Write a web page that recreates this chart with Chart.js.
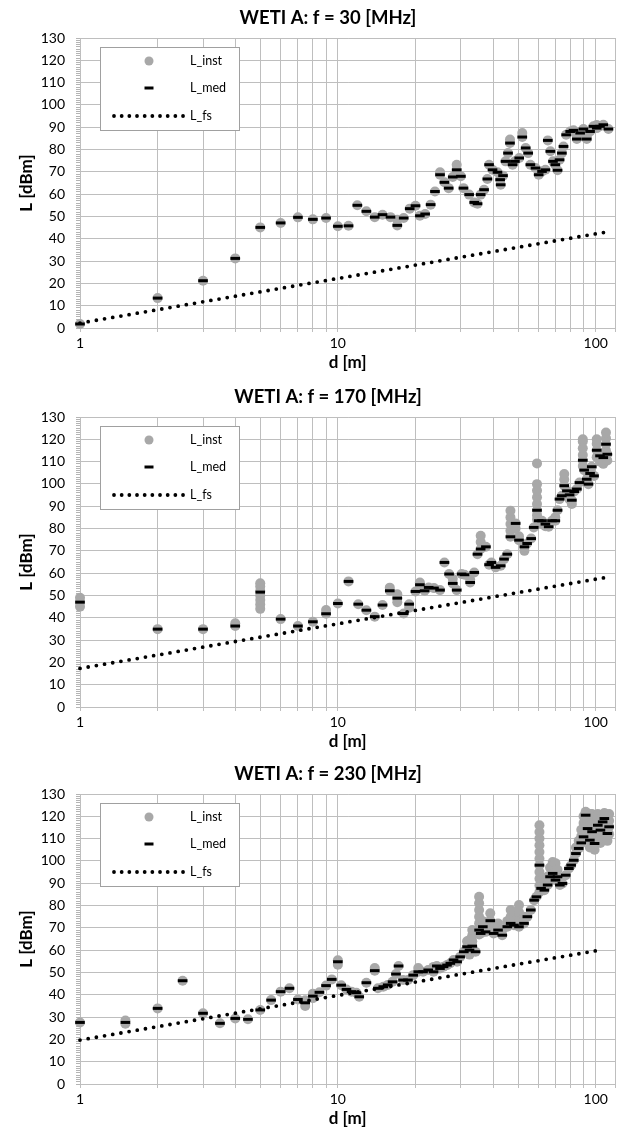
<!DOCTYPE html>
<html>
<head>
<meta charset="utf-8">
<script src="https://cdn.jsdelivr.net/npm/chart.js@4.4.1/dist/chart.umd.min.js"></script>
<style>
  html, body { margin: 0; padding: 0; background: #fff; }
  .box { position: absolute; left: 0; width: 623px; height: 373px; }
</style>
</head>
<body>
<div class="box" style="top:0px"><canvas id="c1"></canvas></div>
<div class="box" style="top:379px"><canvas id="c2"></canvas></div>
<div class="box" style="top:756px"><canvas id="c3"></canvas></div>
<script>
var titles = ['WETI A: f = 30 [MHz]', 'WETI A: f = 170 [MHz]', 'WETI A: f = 230 [MHz]'];
var xGrid = [1, 2, 3, 4, 5, 6, 7, 8, 9, 10, 20, 30, 40, 50, 60, 70, 80, 90, 100, 119];
var xLabels = [1, 10, 100];

// f = 30 MHz
var dist30 = [1, 2, 3, 4, 5, 6, 7, 8, 9, 10, 11, 11.9, 12.9, 13.9, 14.9, 16, 17, 18, 19, 20,
  20.8, 21.8, 22.9, 23.8, 24.9, 25.9, 26.9, 27.9, 28.9, 30, 30.7, 32.3, 33.8, 34.8, 35.8, 36.9, 38, 38.6, 39.8, 41.6,
  42.6, 42.8, 43.7, 44.7, 45.7, 46.5, 47.6, 48.6, 50.5, 51.9, 53.5, 54.7, 55.8, 58.4, 60.1, 61.9, 63.8, 65.2, 66.7, 68.3,
  69.7, 71.1, 72.4, 73.9, 75, 76.8, 79.6, 82, 84.5, 87, 89.6, 92.3, 95.1, 98, 100.9, 103.9, 107, 112];
var med30 = [1.8, 13.4, 21.2, 31.2, 45.1, 47.1, 49.6, 48.7, 49.3, 45.6, 45.8, 55.0, 52.3, 49.7, 50.8, 49.7, 46.0, 49.3, 53.5, 54.8,
  50.3, 51.1, 55.3, 61.2, 68.7, 65.3, 62.7, 67.7, 70.9, 68.0, 62.7, 59.8, 56.3, 55.7, 59.8, 62.0, 66.8, 73.2, 70.9, 69.8,
  66.5, 64.2, 68.3, 74.7, 78.4, 82.9, 73.2, 74.7, 76.2, 85.6, 80.7, 78.4, 73.2, 71.7, 68.7, 70.2, 70.9, 84.1, 79.2, 74.7,
  73.2, 70.7, 75.4, 78.4, 81.4, 86.6, 88.1, 88.6, 84.7, 87.4, 89.2, 84.7, 88.1, 90.4, 89.6, 90.4, 91.1, 89.2];
var inst30 = [[1.8], [13.4], [21.2], [31.2], [45.1], [47.1], [49.6], [48.7], [49.3], [45.6],
  [45.8], [55.0], [52.3], [49.7], [50.8], [49.7], [46.0, 48.5], [49.3], [53.5], [54.8],
  [50.3], [51.1], [55.3], [61.2], [68.7, 69.8], [65.3], [62.7], [67.7], [70.9, 73.2], [68.0],
  [62.7], [59.8], [56.3], [55.7], [59.8], [62.0], [66.8], [73.2], [70.9], [69.8],
  [66.5], [64.2], [68.3], [74.7], [78.4], [82.9, 84.5], [73.2], [74.7], [76.2], [85.6, 87.4],
  [80.7], [78.4], [73.2], [71.7], [68.7], [70.2], [70.9], [84.1], [79.2], [74.7],
  [73.2], [70.7], [75.4], [78.4], [81.4], [86.6], [88.1], [88.6], [84.7, 86], [87.4],
  [89.2], [84.7, 86], [88.1], [90.4], [89.6, 91], [90.4], [91.1], [89.2]];
var fsDist30 = [1, 2, 5, 10, 20, 50, 100, 110];
var fs30 = [2.2, 8.2, 16.2, 22.2, 28.2, 36.2, 42.2, 43.0];

// f = 170 MHz
var dist170 = [1, 2, 3, 4, 5, 6, 7, 8, 9, 10, 11, 12, 12.9, 13.9, 14.9, 15.9, 17, 18, 18.9, 20,
  20.8, 21.7, 22.5, 23.6, 24.9, 25.9, 27, 27.9, 28.9, 30.2, 31, 32.6, 33.8, 34.8, 35.8, 37.5, 38.6, 39.4, 40.9, 42.8,
  44.1, 45.4, 46.7, 48.9, 50.4, 52.9, 54.2, 56.2, 57.5, 59.2, 60.1, 61.9, 63.8, 65.7, 67.7, 69.7, 71.1, 72.4, 73.9, 75.5,
  77.3, 79.2, 80.8, 82.5, 84.5, 86.5, 89.1, 90.2, 92.3, 93.7, 95.1, 96.5, 98.5, 100.9, 103.9, 107, 109.6, 110.9];
var med170 = [47.0, 34.9, 34.9, 36.3, 51.5, 39.4, 36.3, 38.2, 41.8, 46.4, 56.3, 46.1, 43.4, 40.5, 45.7, 52.1, 48.8, 41.9, 46.1, 51.8,
  54.8, 52.1, 53.6, 53.3, 52.4, 64.8, 59.6, 55.4, 52.4, 59.6, 59.3, 55.8, 60.3, 68.5, 70.8, 71.8, 63.8, 64.8, 62.6, 63.3,
  66.3, 68.5, 76.3, 82.3, 74.8, 71.8, 73.3, 75.5, 80.5, 88.2, 83.5, 83.5, 82.0, 80.8, 83.5, 83.5, 88.2, 93.2, 94.7, 99.2,
  96.9, 95.1, 92.7, 96.6, 97.7, 100.6, 110.6, 106.2, 102.1, 99.9, 104.7, 107.7, 103.6, 115.1, 112.6, 111.8, 117.8, 113.3];
var inst170 = [[45, 47, 49], [34.9], [34.9], [36.3, 37.5], [44, 46, 48, 50, 52, 54, 55.5], [39.4], [36.3], [38.2], [41.8, 43.5], [46.4],
  [56.3], [46.1], [43.4], [40.5], [45.7], [52.1, 53.5], [47, 48.8, 50.5], [41.9], [44.5, 46.1], [51.8],
  [54.8, 55.8], [52.1], [53.6], [53.3], [52.4], [64.8], [59.6], [55.4, 57.5], [52.4], [59.6],
  [59.3], [55.8, 57], [60.3], [68.5], [70.8, 74, 76.8], [71.8], [63.8], [64.8], [62.6], [63.3],
  [66.3], [68.5], [76.3, 79, 82, 85, 88], [80, 82.3], [74.8, 76.5], [70, 71.8], [73.3], [75.5], [80.5], [84, 86, 88.2, 91, 94, 97, 99.9, 109.2],
  [83.5], [82, 83.5], [81, 82], [80.8], [83.5], [83.5, 85], [88.2], [93.2], [94.7], [99.2, 102, 104.4],
  [96.9], [93, 95.1], [91, 92.7], [96.6], [97.7], [100.6], [108, 110.6, 113, 116, 119, 120], [106.2], [102.1], [99.9],
  [104.7], [107.7], [103.6], [112, 115.1, 118, 120], [110, 112.6], [109, 111.8], [115, 117.8, 120.5, 123], [110.5, 113.3]];
var fsDist170 = [1, 2, 5, 10, 20, 50, 100, 110];
var fs170 = [17.3, 23.3, 31.3, 37.3, 43.3, 51.3, 57.3, 58.1];

// f = 230 MHz
var dist230 = [1, 1.5, 2, 2.5, 3, 3.49, 4, 4.48, 5, 5.51, 6, 6.49, 7, 7.47, 8, 8.48, 9, 9.47, 10, 10.3,
  10.8, 11.3, 11.8, 12.1, 12.9, 13.9, 14.3, 15, 15.6, 16.3, 16.8, 17.2, 17.9, 18.7, 19.6, 20.5, 21.4, 22.4, 23.5, 24.2,
  24.9, 25.7, 26.5, 27.3, 28.1, 29, 29.8, 30.8, 31.7, 32.4, 33.2, 34.2, 35.3, 35.8, 36.5, 37.4, 39, 40.2, 41.8, 43.4,
  45.4, 46.8, 48.2, 50.4, 52.7, 54.3, 56, 57.7, 58.9, 60.5, 61.4, 63.2, 65.1, 66.5, 68.1, 69.8, 71.1, 72.6, 74.3, 76.5,
  78.7, 80.3, 82.2, 83.8, 85.9, 87.9, 89.7, 91.4, 93, 94.9, 96.8, 99, 101.9, 104.3, 106.4, 108, 111, 112.7];
var med230 = [27.6, 27.6, 33.9, 46.3, 31.7, 27.2, 29.4, 29.0, 33.2, 37.6, 41.4, 42.9, 37.9, 36.4, 39.4, 41.1, 44.1, 46.9, 54.8, 44.3,
  42.4, 41.4, 40.9, 39.1, 45.4, 50.8, 42.9, 43.6, 44.4, 45.8, 49.3, 52.9, 46.6, 46.6, 48.8, 50.3, 50.3, 51.1, 50.3, 52.9,
  51.8, 52.6, 53.3, 54.1, 55.6, 54.8, 57.0, 59.3, 61.5, 60.0, 61.8, 59.3, 69.0, 67.5, 70.5, 68.2, 73.2, 67.5, 69.0, 66.7,
  70.5, 72.0, 71.2, 70.5, 72.0, 75.0, 78.0, 82.4, 83.9, 98.1, 87.7, 86.9, 89.2, 92.9, 94.4, 91.4, 92.9, 89.2, 89.9, 93.6,
  96.6, 98.1, 100.3, 103.3, 105.6, 108.1, 110.8, 120.5, 114.5, 109.3, 113.1, 107.8, 116.0, 113.8, 117.5, 119.0, 112.3, 115.3];
var inst230 = [[27.6], [27, 28.5], [33.9], [46.3], [31.7], [27.2], [29.4], [29.0], [33.2], [37.6],
  [41.4], [42.9], [37.9], [35, 37.5], [38.5, 40.5], [41.1], [44.1], [46.9], [53.5, 55.5], [44.3],
  [42.4], [41.4], [40.9], [39.1], [45.4], [50.8, 52], [42.9], [43.6], [44.4], [45.8],
  [49.3], [52.9], [46.6], [46.6], [48.8], [50.3, 52], [50.3], [51.1], [50.3, 52.5], [52.9],
  [51.8], [52.6], [53.3], [54.1], [55.6], [54.8], [57.0], [59.3], [61.5, 64], [58, 60, 62, 64.5],
  [61.8, 64, 66.5, 69], [59.3], [67, 69, 72, 75, 78, 81, 83.9], [67.5, 70], [70.5, 73], [68.2, 72], [71, 73.2, 76.5], [67.5, 70], [69.0, 72], [66.7, 69],
  [70.5, 73], [72, 75, 78], [71.2, 74, 77], [70.5, 73.5, 77, 80.2], [72.0, 75], [75.0], [78.0], [82.4], [83.9], [86, 89, 92, 95, 98.1, 101, 104, 107, 110, 113, 116],
  [87.7, 90], [86.9, 90], [89.2, 93], [92.9, 97], [94.4, 97, 99.5], [91.4, 95, 99], [92.9, 96], [89.2], [89.9], [93.6],
  [96.6], [98.1], [100.3], [103.3, 106], [105.6, 109], [108.1, 111, 114], [110.8, 114, 117, 120], [114, 117, 120.5, 122], [111, 114.5, 118, 121], [106, 109.3, 113, 117, 121],
  [110, 113.1, 117, 121], [105, 107.8, 111, 115], [112, 116, 119, 121], [108, 110, 113.8, 117], [114, 117.5, 120], [116, 119, 121.5], [109, 112.3, 115, 118], [112, 115.3, 118, 121]];
var fsDist230 = [1, 2, 5, 10, 20, 50, 100, 104];
var fs230 = [19.7, 25.7, 33.7, 39.7, 45.7, 53.7, 59.7, 60.0];

Chart.defaults.font.family = 'Lato, "Open Sans", sans-serif';
Chart.defaults.color = '#000';

function pts(xs, ys) {
  return xs.map(function (x, i) { return { x: x, y: ys[i] }; });
}
function instPts(xs, vals) {
  var out = [];
  xs.forEach(function (x, i) {
    vals[i].forEach(function (v) { out.push({ x: x, y: v }); });
  });
  return out;
}

// legend box inside the plot, like the spreadsheet one
var insideLegend = {
  id: 'insideLegend',
  afterDraw: function (chart) {
    var ctx = chart.ctx, a = chart.chartArea;
    var bx = a.left + 20, by = a.top + 9, bw = 139, bh = 83;
    var ds = chart.data.datasets;
    ctx.save();
    ctx.fillStyle = '#fff';
    ctx.fillRect(bx, by, bw, bh);
    ctx.strokeStyle = '#a0a0a0';
    ctx.lineWidth = 1;
    ctx.strokeRect(bx + 0.5, by + 0.5, bw, bh);
    var rows = [14, 41, 69];
    ctx.font = '12.5px Lato, "Open Sans", sans-serif';
    ctx.textBaseline = 'middle';
    ctx.textAlign = 'left';
    ds.forEach(function (d, i) {
      var y = by + rows[i];
      if (i === 0) {
        ctx.fillStyle = d.pointBackgroundColor;
        ctx.beginPath();
        ctx.arc(bx + 49, y, 4.5, 0, Math.PI * 2);
        ctx.fill();
      } else if (i === 1) {
        ctx.strokeStyle = d.pointBorderColor;
        ctx.lineWidth = 3;
        ctx.beginPath();
        ctx.moveTo(bx + 44.5, y);
        ctx.lineTo(bx + 53.5, y);
        ctx.stroke();
      } else {
        ctx.strokeStyle = d.borderColor;
        ctx.lineWidth = d.borderWidth;
        ctx.lineCap = 'round';
        ctx.setLineDash([0, 7.67]);
        ctx.beginPath();
        ctx.moveTo(bx + 14, y);
        ctx.lineTo(bx + 83.5, y);
        ctx.stroke();
        ctx.setLineDash([]);
      }
      ctx.fillStyle = '#000';
      ctx.fillText(d.label, bx + 90, y);
    });
    ctx.restore();
  }
};

// the title in the original sits a bit right of the page centre
var titleShift = {
  id: 'titleShift',
  afterLayout: function (chart) {
    if (chart.titleBlock) chart.titleBlock.left = 38;
  }
};

function makeChart(id, title, dist, med, inst, fsDist, fs) {
  var ctx = document.getElementById(id);
  return new Chart(ctx, {
    type: 'scatter',
    data: {
      datasets: [{
        label: 'L_inst',
        data: instPts(dist, inst),
        pointStyle: 'circle',
        pointRadius: 5,
        pointBorderWidth: 0,
        pointBackgroundColor: '#a8a8a8',
        backgroundColor: '#a8a8a8',
        borderColor: '#a8a8a8',
        clip: false,
        order: 3
      }, {
        label: 'L_med',
        data: pts(dist, med),
        pointStyle: 'line',
        pointRadius: 4.8,
        pointBorderWidth: 3,
        pointBorderColor: '#000',
        borderColor: '#000',
        clip: false,
        order: 2
      }, {
        label: 'L_fs',
        data: pts(fsDist, fs),
        showLine: true,
        borderColor: '#000',
        borderWidth: 3.8,
        borderDash: [0, 8.3],
        borderCapStyle: 'round',
        pointRadius: 0,
        fill: false,
        clip: false,
        order: 1
      }]
    },
    options: {
      responsive: true,
      maintainAspectRatio: false,
      animation: false,
      events: [],
      layout: { padding: { left: 0, right: 5, top: 0, bottom: 0 } },
      plugins: {
        legend: { display: false },
        tooltip: { enabled: false },
        title: {
          display: true,
          text: title,
          color: '#000',
          font: { size: 18.5, weight: 'bold' },
          padding: { top: 7, bottom: 8.8 }
        }
      },
      scales: {
        x: {
          type: 'logarithmic',
          min: 1,
          max: 119,
          afterBuildTicks: function (s) {
            s.ticks = xGrid.map(function (v) { return { value: v }; });
          },
          afterFit: function (s) { s.height = 45; },
          ticks: {
            autoSkip: false,
            maxRotation: 0,
            padding: 3,
            color: '#000',
            font: { size: 14 },
            callback: function (v) { return xLabels.indexOf(v) >= 0 ? String(v) : ''; }
          },
          grid: { color: '#bebebe', tickLength: 4 },
          border: { color: '#bebebe' },
          title: {
            display: true,
            text: 'd [m]',
            color: '#000',
            font: { size: 17, weight: 'bold' },
            padding: { top: 0, bottom: 0 }
          }
        },
        y: {
          min: 0,
          max: 130,
          afterFit: function (s) { s.width = 80; },
          ticks: {
            stepSize: 1,
            autoSkip: false,
            padding: 11,
            color: '#000',
            font: { size: 14 },
            callback: function (v) { return v % 10 === 0 ? String(v) : ''; }
          },
          grid: {
            color: function (c) { return c.tick && c.tick.value % 10 === 0 ? '#bebebe' : 'rgba(0,0,0,0)'; },
            tickColor: '#b4b4b4',
            tickLength: 4
          },
          border: { color: '#bebebe' },
          title: {
            display: true,
            text: 'L [dBm]',
            color: '#000',
            font: { size: 17, weight: 'bold' },
            padding: { top: 16.5, bottom: 0 }
          }
        }
      }
    },
    plugins: [insideLegend, titleShift]
  });
}

makeChart('c1', titles[0], dist30, med30, inst30, fsDist30, fs30);
makeChart('c2', titles[1], dist170, med170, inst170, fsDist170, fs170);
makeChart('c3', titles[2], dist230, med230, inst230, fsDist230, fs230);
</script>
</body>
</html>
